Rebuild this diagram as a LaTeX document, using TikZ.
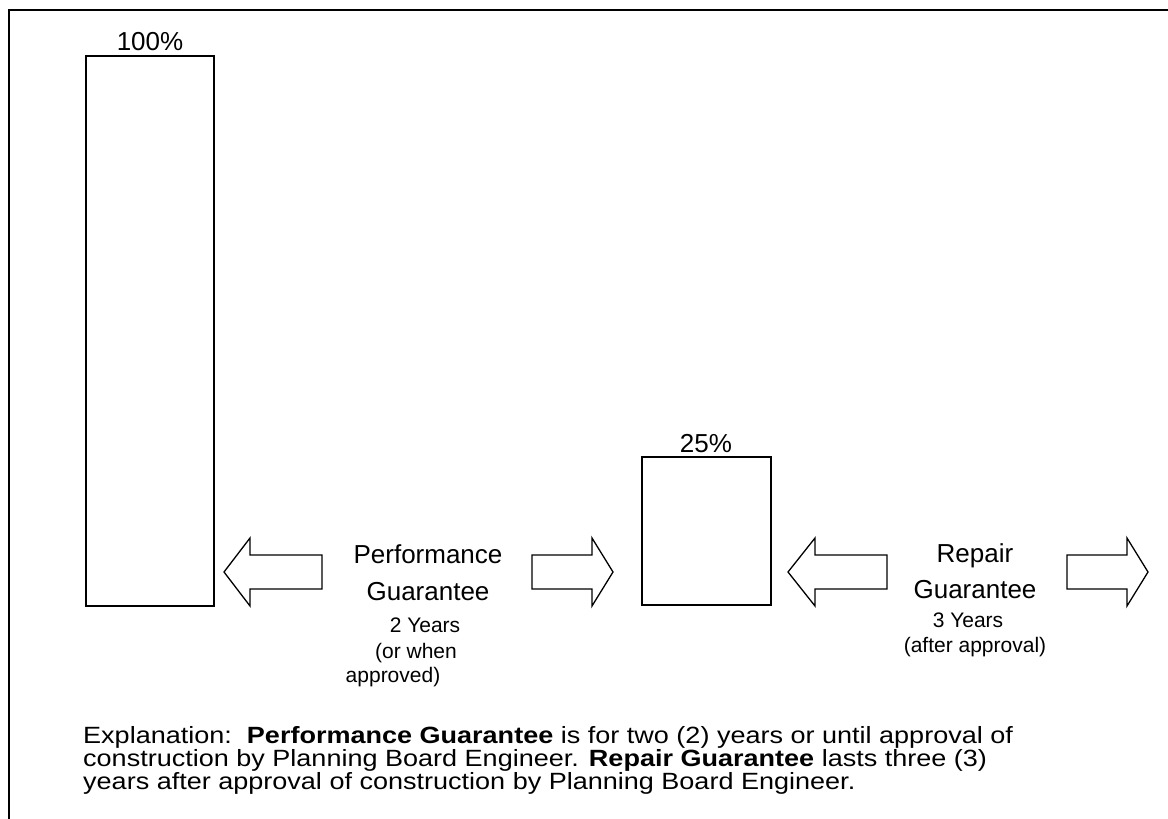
\documentclass[tikz,border=0pt]{standalone}
\usepackage{fontspec}
\setmainfont{Liberation Sans}
\newfontfamily\explfont[FakeStretch=1.15]{Liberation Sans}
\begin{document}
\begin{tikzpicture}[x=1pt,y=-1pt,
    bar/.style={draw,line width=1.3pt,inner sep=0pt,outer sep=0pt,anchor=north west},
    blockarrow/.style={draw,line width=1.3pt,line join=miter},
    big/.style={font=\fontsize{26}{30}\selectfont,inner sep=0pt,anchor=base},
    small/.style={font=\fontsize{21}{24}\selectfont,inner sep=0pt,anchor=base},
    expl/.style={font=\explfont\fontsize{23.5}{23}\selectfont,inner sep=0pt,align=left,anchor=base west}]
  \useasboundingbox (0,0) rectangle (1168,819);
  \draw[line width=1.6pt] (9,819) -- (9,10) -- (1168,10);
  % bars
  \node[bar,minimum width=128pt,minimum height=550pt] (full) at (86,56) {};
  \node[bar,minimum width=129pt,minimum height=148pt] (quarter) at (642,457) {};
  \node[big] (fulllabel) at (150,50) {100\%};
  \node[big] (quarterlabel) at (706,452) {25\%};
  % block arrows
  \draw[blockarrow] (224,572) -- (250,538) -- (250,555) -- (322,555)
    -- (322,589) -- (250,589) -- (250,606) -- cycle;
  \draw[blockarrow] (613,572) -- (592,538) -- (592,555) -- (532,555)
    -- (532,589) -- (592,589) -- (592,606) -- cycle;
  \draw[blockarrow] (788,572) -- (815,538) -- (815,555) -- (887,555)
    -- (887,589) -- (815,589) -- (815,606) -- cycle;
  \draw[blockarrow] (1148,572) -- (1127,538) -- (1127,555) -- (1067,555)
    -- (1067,589) -- (1127,589) -- (1127,606) -- cycle;
  % guarantee labels
  \node[big] (perf) at (428,563) {Performance};
  \node[big] (perfg) at (428,600) {Guarantee};
  \node[small] (perf1) at (425,632) {2 Years};
  \node[small] (perf2) at (416,658) {(or when};
  \node[small] (perf3) at (393,682) {approved)};
  \node[big] (rep) at (975,562) {Repair};
  \node[big] (repg) at (975,598) {Guarantee};
  \node[small] (rep1) at (968,627) {3 Years};
  \node[small] (rep2) at (975,652) {(after approval)};
  % explanation (base = last line)
  \node[expl] (expl) at (83,789) {Explanation:\ \ \textbf{Performance Guarantee} is for two (2) years or until approval of\\
    construction by Planning Board Engineer. \textbf{Repair Guarantee} lasts three (3)\\
    years after approval of construction by Planning Board Engineer.};
\end{tikzpicture}
\end{document}
